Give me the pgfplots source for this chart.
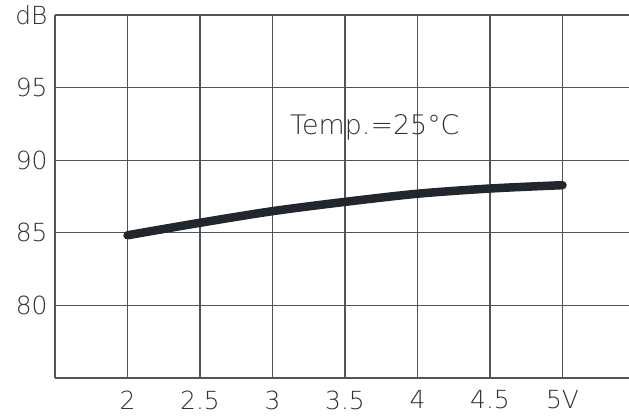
\documentclass[border=0pt]{standalone}
\usepackage{fontspec}
\setmainfont{DejaVu Sans ExtraLight}
\usepackage{pgfplots}
\pgfplotsset{compat=1.18}
\definecolor{curve}{HTML}{22272E}
\definecolor{gridc}{HTML}{50555A}
\definecolor{txt}{HTML}{303030}
\begin{document}
\begin{tikzpicture}
\begin{axis}[
    at={(55bp,42bp)}, anchor=south west,
    scale only axis,
    width=580bp, height=363bp,
    xmin=1.5, xmax=5.5,
    ymin=75, ymax=100,
    axis x line=box,
    axis y line=left,
    axis line style={-, gridc, line width=1.3pt},
    xtick={1.5,2,...,5.5},
    xticklabels={,2,2.5,3,3.5,4,4.5,5V,},
    ytick={75,80,...,100},
    yticklabels={,80,85,90,95,dB},
    major tick length=0pt,
    grid=major,
    major grid style={gridc, line width=1.3pt},
    tick label style={font=\fontsize{25}{25}\selectfont, text=txt},
    xticklabel style={yshift=-9bp},
    yticklabel style={xshift=-4bp},
    clip=false,
]
\addplot[curve, line width=8.5bp, line cap=round, smooth, tension=0.5] coordinates {
    (2,84.83) (2.5,85.69) (3,86.49) (3.5,87.13) (4,87.69) (4.5,88.05) (5,88.28)
};
\node[anchor=base west, inner sep=0pt, text=txt, font=\fontsize{27}{27}\selectfont]
    at (axis cs:3.121,91.74) {Temp.=25°C};
\end{axis}
\pgfresetboundingbox
\useasboundingbox (0,0) rectangle (629bp,420bp);
\end{tikzpicture}
\end{document}
